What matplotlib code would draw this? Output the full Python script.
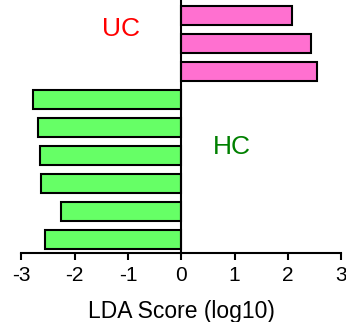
import matplotlib.pyplot as plt

plt.rcParams['font.family'] = ['Liberation Sans', 'DejaVu Sans']

# bars listed bottom to top
scores = [-2.56, -2.26, -2.64, -2.66, -2.69, -2.78, 2.55, 2.43, 2.07]
groups = ['HC', 'HC', 'HC', 'HC', 'HC', 'HC', 'UC', 'UC', 'UC']
group_colors = {'UC': '#ff70d0', 'HC': '#66ff66'}
xticks = [-3, -2, -1, 0, 1, 2, 3]

fig = plt.figure(figsize=(3.46, 3.22), dpi=100)
ax = fig.add_axes([0.062, 0.213, 0.924, 0.787])

ax.barh(range(len(scores)), scores, height=0.66,
        color=[group_colors[g] for g in groups],
        edgecolor='black', linewidth=1.5)

ax.set_xlim(-3, 3)
ax.set_ylim(-0.5, 8.55)
ax.set_xticks(xticks)
ax.set_xticklabels([str(t) for t in xticks], fontsize=15)
ax.set_yticks([])
ax.tick_params(axis='x', direction='out', length=5, width=1.5, pad=4)

ax.spines['top'].set_visible(False)
ax.spines['right'].set_visible(False)
ax.spines['left'].set_position(('data', 0))
ax.spines['left'].set_linewidth(1.5)
ax.spines['bottom'].set_linewidth(1.5)

ax.set_xlabel('LDA Score (log10)', fontsize=16.5, labelpad=11)

ax.text(-1.14, 7.5, 'UC', color='red', fontsize=19, ha='center', va='center')
ax.text(0.94, 3.3, 'HC', color='green', fontsize=19, ha='center', va='center')

fig.savefig('out.png', dpi=100)
